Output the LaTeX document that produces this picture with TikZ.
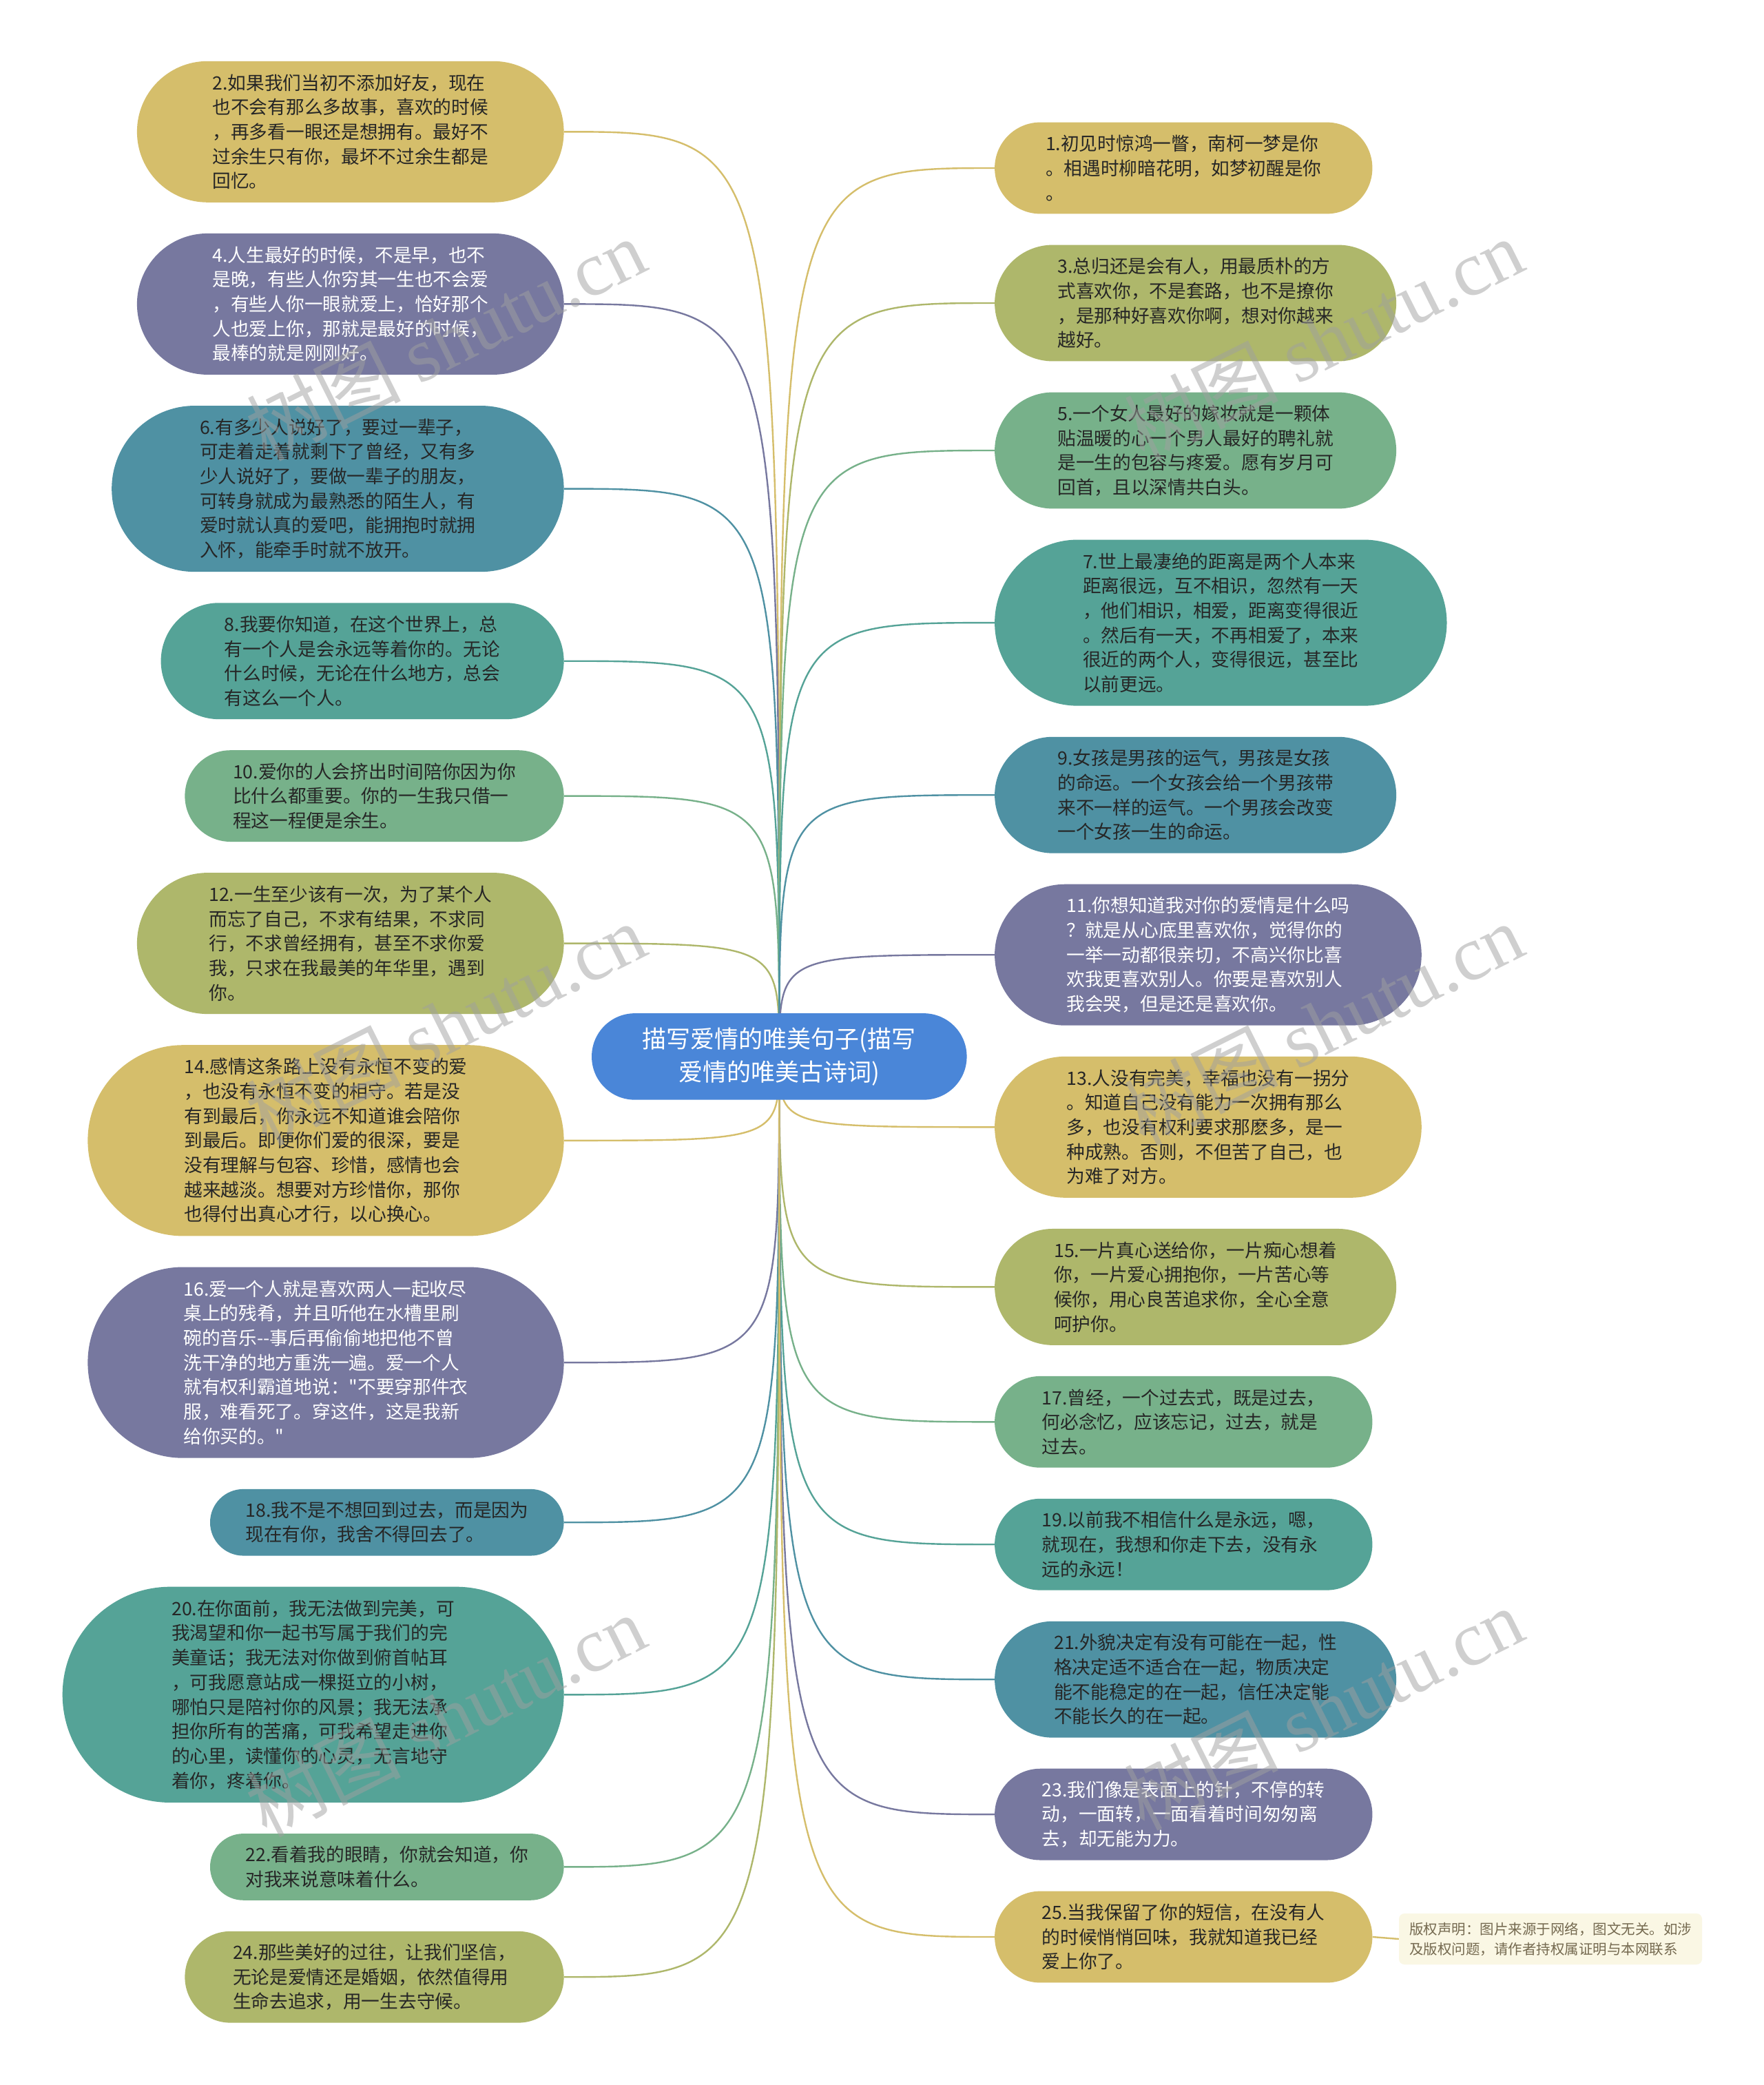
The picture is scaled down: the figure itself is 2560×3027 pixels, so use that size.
\documentclass[tikz,border=0pt]{standalone}
\usepackage{fontspec}
\setmainfont{Noto Sans CJK SC}[Ligatures=TeXOff]
\newfontfamily\wmlatin{Liberation Serif}
\usetikzlibrary{backgrounds}
\definecolor{cY}{HTML}{D5BE6B}
\definecolor{cP}{HTML}{77789F}
\definecolor{cB}{HTML}{4F91A3}
\definecolor{cT}{HTML}{55A397}
\definecolor{cG}{HTML}{77B18A}
\definecolor{cO}{HTML}{AEB76B}
\definecolor{cRoot}{HTML}{4A86D8}
\definecolor{txtd}{HTML}{262626}
\definecolor{noteF}{HTML}{FAF7E4}
\definecolor{noteT}{HTML}{756A50}
\definecolor{wmark}{HTML}{A0A0A0}
\newcommand\bodyf{\fontsize{26.7pt}{35.7pt}\selectfont}
\newcommand\rootf{\fontsize{35pt}{48pt}\selectfont}
\newcommand\notef{\fontsize{20.5pt}{29pt}\selectfont}
\tikzset{
  bub/.style={draw=none, inner sep=0pt, align=left, font=\bodyf, text=txtd},
  wtxt/.style={text=white},
  conn/.style={line width=2.4pt},
  wm/.style={text=wmark, opacity=0.5, rotate=26.6, inner sep=0pt},
}
\begin{document}
\begin{tikzpicture}[x=1pt,y=-1pt]
\useasboundingbox (0,0) rectangle (2560,3027);
% root
\node[bub, wtxt, font=\rootf, align=center, fill=cRoot, minimum width=544.5pt, minimum height=125.5pt, rounded corners=62.5pt] (root) at (1131.3,1533.9) {描写爱情的唯美句子(描写\\爱情的唯美古诗词)};
% left column
\node[bub, fill=cY, minimum width=619.7pt, minimum height=205pt, rounded corners=102.4pt] (n2) at (508.75,191.3) {2.如果我们当初不添加好友，现在\\也不会有那么多故事，喜欢的时候\\，再多看一眼还是想拥有。最好不\\过余生只有你，最坏不过余生都是\\回忆。};
\node[bub, wtxt, fill=cP, minimum width=619.7pt, minimum height=205pt, rounded corners=102.4pt] (n4) at (508.75,441.4) {4.人生最好的时候，不是早，也不\\是晚，有些人你穷其一生也不会爱\\，有些人你一眼就爱上，恰好那个\\人也爱上你，那就是最好的时候，\\最棒的就是刚刚好。};
\node[bub, fill=cB, minimum width=656.4pt, minimum height=241.1pt, rounded corners=120.5pt] (n6) at (490.4,709.6) {6.有多少人说好了，要过一辈子，\\可走着走着就剩下了曾经，又有多\\少人说好了，要做一辈子的朋友，\\可转身就成为最熟悉的陌生人，有\\爱时就认真的爱吧，能拥抱时就拥\\入怀，能牵手时就不放开。};
\node[bub, fill=cT, minimum width=585pt, minimum height=168.9pt, rounded corners=84.4pt] (n8) at (526.1,959.7) {8.我要你知道，在这个世界上，总\\有一个人是会永远等着你的。无论\\什么时候，无论在什么地方，总会\\有这么一个人。};
\node[bub, fill=cG, minimum width=550.2pt, minimum height=132.8pt, rounded corners=66.3pt] (n10) at (543.5,1155.6) {10.爱你的人会挤出时间陪你因为你\\比什么都重要。你的一生我只借一\\程这一程便是余生。};
\node[bub, fill=cO, minimum width=619.7pt, minimum height=205pt, rounded corners=102.4pt] (n12) at (508.75,1369.6) {12.一生至少该有一次，为了某个人\\而忘了自己，不求有结果，不求同\\行，不求曾经拥有，甚至不求你爱\\我，只求在我最美的年华里，遇到\\你。};
\node[bub, fill=cY, minimum width=691.2pt, minimum height=277.2pt, rounded corners=138.5pt] (n14) at (473,1655.8) {14.感情这条路上没有永恒不变的爱\\，也没有永恒不变的相守。若是没\\有到最后，你永远不知道谁会陪你\\到最后。即便你们爱的很深，要是\\没有理解与包容、珍惜，感情也会\\越来越淡。想要对方珍惜你，那你\\也得付出真心才行，以心换心。};
\node[bub, wtxt, fill=cP, minimum width=691.2pt, minimum height=277.2pt, rounded corners=138.5pt] (n16) at (473,1978.1) {16.爱一个人就是喜欢两人一起收尽\\桌上的残肴，并且听他在水槽里刷\\碗的音乐--事后再偷偷地把他不曾\\洗干净的地方重洗一遍。爱一个人\\就有权利霸道地说："不要穿那件衣\\服，难看死了。穿这件，这是我新\\给你买的。"};
\node[bub, fill=cB, minimum width=513.6pt, minimum height=96.7pt, rounded corners=48.3pt] (n18) at (561.8,2210.2) {18.我不是不想回到过去，而是因为\\现在有你，我舍不得回去了。};
\node[bub, fill=cT, minimum width=727.9pt, minimum height=313.3pt, rounded corners=156.6pt] (n20) at (454.65,2460.3) {20.在你面前，我无法做到完美，可\\我渴望和你一起书写属于我们的完\\美童话；我无法对你做到俯首帖耳\\，可我愿意站成一棵挺立的小树，\\哪怕只是陪衬你的风景；我无法承\\担你所有的苦痛，可我希望走进你\\的心里，读懂你的心灵，无言地守\\着你，疼着你。};
\node[bub, fill=cG, minimum width=513.6pt, minimum height=96.7pt, rounded corners=48.3pt] (n22) at (561.8,2710.4) {22.看着我的眼睛，你就会知道，你\\对我来说意味着什么。};
\node[bub, fill=cO, minimum width=550.2pt, minimum height=132.8pt, rounded corners=66.3pt] (n24) at (543.5,2870.2) {24.那些美好的过往，让我们坚信，\\无论是爱情还是婚姻，依然值得用\\生命去追求，用一生去守候。};
% right column
\node[bub, fill=cY, minimum width=548.3pt, minimum height=132.8pt, rounded corners=66.3pt] (n1) at (1718.25,244.0) {1.初见时惊鸿一瞥，南柯一梦是你\\。相遇时柳暗花明，如梦初醒是你\\。};
\node[bub, fill=cO, minimum width=583pt, minimum height=168.9pt, rounded corners=84.4pt] (n3) at (1735.6,440.0) {3.总归还是会有人，用最质朴的方\\式喜欢你，不是套路，也不是撩你\\，是那种好喜欢你啊，想对你越来\\越好。};
\node[bub, fill=cG, minimum width=583pt, minimum height=168.9pt, rounded corners=84.4pt] (n5) at (1735.6,654.0) {5.一个女人最好的嫁妆就是一颗体\\贴温暖的心一个男人最好的聘礼就\\是一生的包容与疼爱。愿有岁月可\\回首，且以深情共白头。};
\node[bub, fill=cT, minimum width=656.4pt, minimum height=241.1pt, rounded corners=120.5pt] (n7) at (1772.3,904.1) {7.世上最凄绝的距离是两个人本来\\距离很远，互不相识，忽然有一天\\，他们相识，相爱，距离变得很近\\。然后有一天，不再相爱了，本来\\很近的两个人，变得很远，甚至比\\以前更远。};
\node[bub, fill=cB, minimum width=583pt, minimum height=168.9pt, rounded corners=84.4pt] (n9) at (1735.6,1154.2) {9.女孩是男孩的运气，男孩是女孩\\的命运。一个女孩会给一个男孩带\\来不一样的运气。一个男孩会改变\\一个女孩一生的命运。};
\node[bub, wtxt, fill=cP, minimum width=619.7pt, minimum height=205pt, rounded corners=102.4pt] (n11) at (1753.95,1386.2) {11.你想知道我对你的爱情是什么吗\\？就是从心底里喜欢你，觉得你的\\一举一动都很亲切，不高兴你比喜\\欢我更喜欢别人。你要是喜欢别人\\我会哭，但是还是喜欢你。};
\node[bub, fill=cY, minimum width=619.7pt, minimum height=205pt, rounded corners=102.4pt] (n13) at (1753.95,1636.3) {13.人没有完美，幸福也没有一拐分\\。知道自己没有能力一次拥有那么\\多，也没有权利要求那麽多，是一\\种成熟。否则，不但苦了自己，也\\为难了对方。};
\node[bub, fill=cO, minimum width=583pt, minimum height=168.9pt, rounded corners=84.4pt] (n15) at (1735.6,1868.4) {15.一片真心送给你，一片痴心想着\\你，一片爱心拥抱你，一片苦心等\\候你，用心良苦追求你，全心全意\\呵护你。};
\node[bub, fill=cG, minimum width=548.3pt, minimum height=132.8pt, rounded corners=66.3pt] (n17) at (1718.25,2064.3) {17.曾经，一个过去式，既是过去，\\何必念忆，应该忘记，过去，就是\\过去。};
\node[bub, fill=cT, minimum width=548.3pt, minimum height=132.8pt, rounded corners=66.3pt] (n19) at (1718.25,2242.2) {19.以前我不相信什么是永远，嗯，\\就现在，我想和你走下去，没有永\\远的永远！};
\node[bub, fill=cB, minimum width=583pt, minimum height=168.9pt, rounded corners=84.4pt] (n21) at (1735.6,2438.2) {21.外貌决定有没有可能在一起，性\\格决定适不适合在一起，物质决定\\能不能稳定的在一起，信任决定能\\不能长久的在一起。};
\node[bub, wtxt, fill=cP, minimum width=548.3pt, minimum height=132.8pt, rounded corners=66.3pt] (n23) at (1718.25,2634.1) {23.我们像是表面上的针，不停的转\\动，一面转，一面看着时间匆匆离\\去，却无能为力。};
\node[bub, fill=cY, minimum width=548.3pt, minimum height=132.8pt, rounded corners=66.3pt] (n25) at (1718.25,2812.0) {25.当我保留了你的短信，在没有人\\的时候悄悄回味，我就知道我已经\\爱上你了。};
% copyright note
\node[bub, font=\notef, text=noteT, fill=noteF, minimum width=440pt, minimum height=74pt, rounded corners=8pt] (note) at (2251,2815) {版权声明：图片来源于网络，图文无关。如涉\\及版权问题，请作者持权属证明与本网联系};
% connectors
\begin{pgfonlayer}{background}
\fill[white] (0,0) rectangle (2560,3027);
\foreach \n/\c in {n2/cY,n4/cP,n6/cB,n8/cT,n10/cG,n12/cO,n14/cY,n16/cP,n18/cB,n20/cT,n22/cG,n24/cO}
  \draw[conn, \c] (root.center) .. controls (root.center |- \n.east) .. (\n.east);
\foreach \n/\c in {n1/cY,n3/cO,n5/cG,n7/cT,n9/cB,n11/cP,n13/cY,n15/cO,n17/cG,n19/cT,n21/cB,n23/cP,n25/cY}
  \draw[conn, \c] (root.center) .. controls (root.center |- \n.west) .. (\n.west);
\draw[conn, cY] (n25.east) -- (note.west);
\end{pgfonlayer}
% watermarks
\foreach \wx/\wy [count=\i] in {646.8/492.3, 646.8/1486.6, 646.8/2490.5, 1920.9/492.3, 1920.9/1486.6, 1920.9/2480.8}
  \node[wm] (wm\i) at (\wx,\wy) {\fontsize{112pt}{112pt}\selectfont 树图 {\wmlatin shutu.cn}};
\end{tikzpicture}
\end{document}
